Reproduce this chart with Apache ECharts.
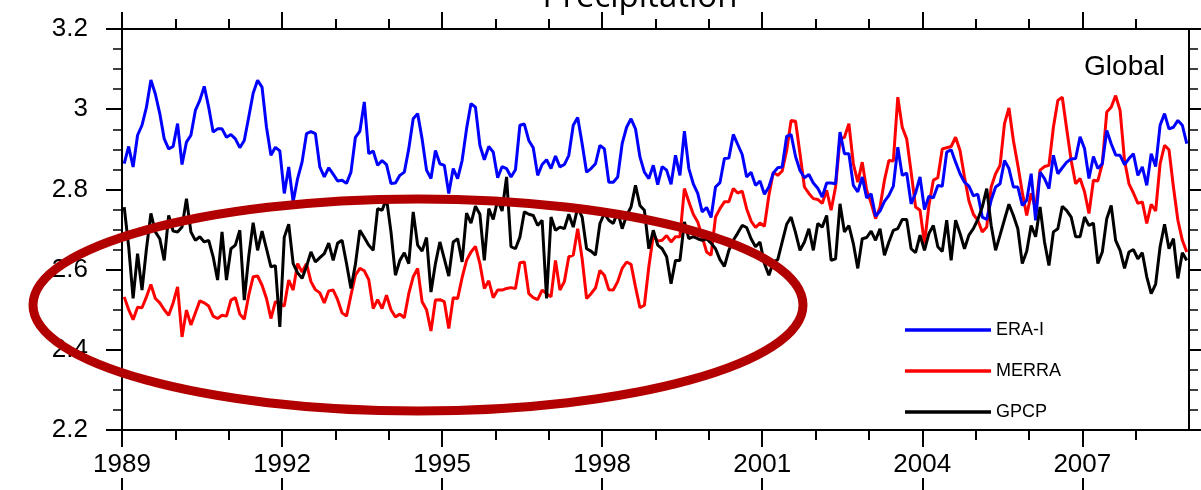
<!DOCTYPE html>
<html>
<head>
<meta charset="utf-8">
<script src="https://cdn.jsdelivr.net/npm/echarts@6/dist/echarts.min.js"></script>
<style>
html,body{margin:0;padding:0;background:#ffffff;}
#chart{width:1201px;height:490px;}
</style>
</head>
<body>
<div id="chart"></div>
<script>
// ---------------- data ----------------
const startYear = 1989;                 // monthly series, Jan 1989 .. Dec 2008
const yearCategories = ['1989','1990','1991','1992','1993','1994','1995','1996','1997','1998',
  '1999','2000','2001','2002','2003','2004','2005','2006','2007','2008','2009'];
const yMin = 2.2, yMax = 3.2, yStep = 0.2;
const seriesNames = ['ERA-I', 'MERRA', 'GPCP'];
const titleText = 'Precipitation';
const regionText = 'Global';

const eraI = [
  2.864,2.907,2.856,2.935,2.960,3.005,3.073,3.038,2.989,2.926,2.901,2.907,
  2.964,2.862,2.918,2.935,2.997,3.022,3.057,3.005,2.943,2.951,2.951,2.930,
  2.937,2.926,2.904,2.922,2.980,3.040,3.072,3.055,2.955,2.885,2.905,2.896,
  2.790,2.856,2.769,2.827,2.868,2.939,2.944,2.939,2.856,2.831,2.854,2.838,
  2.821,2.823,2.815,2.843,2.930,2.945,3.018,2.889,2.896,2.860,2.872,2.862,
  2.815,2.816,2.835,2.843,2.901,2.976,2.989,2.926,2.848,2.827,2.897,2.864,
  2.860,2.790,2.852,2.827,2.872,2.951,3.014,3.005,2.910,2.874,2.907,2.893,
  2.829,2.857,2.852,2.831,2.849,2.960,2.963,2.922,2.904,2.835,2.862,2.874,
  2.852,2.883,2.856,2.862,2.885,2.960,2.979,2.914,2.843,2.852,2.864,2.910,
  2.901,2.818,2.818,2.831,2.914,2.955,2.976,2.951,2.881,2.843,2.827,2.860,
  2.812,2.857,2.848,2.813,2.885,2.835,2.945,2.852,2.814,2.790,2.744,2.755,
  2.730,2.806,2.817,2.877,2.878,2.937,2.912,2.887,2.831,2.843,2.810,2.821,
  2.788,2.806,2.841,2.854,2.856,2.932,2.937,2.882,2.847,2.829,2.837,2.816,
  2.803,2.781,2.816,2.816,2.814,2.943,2.889,2.889,2.810,2.794,2.831,2.779,
  2.789,2.733,2.746,2.770,2.785,2.808,2.905,2.835,2.841,2.764,2.791,2.831,
  2.750,2.783,2.779,2.810,2.808,2.893,2.899,2.868,2.839,2.818,2.808,2.784,
  2.788,2.731,2.725,2.773,2.806,2.814,2.872,2.852,2.806,2.806,2.760,2.773,
  2.839,2.723,2.843,2.827,2.802,2.885,2.839,2.854,2.868,2.876,2.877,2.931,
  2.902,2.827,2.882,2.852,2.864,2.947,2.914,2.886,2.885,2.862,2.877,2.889,
  2.835,2.856,2.810,2.889,2.857,2.960,2.989,2.951,2.955,2.972,2.960,2.914
];

const merra = [
  2.532,2.500,2.475,2.506,2.505,2.532,2.563,2.528,2.517,2.500,2.486,2.517,
  2.557,2.432,2.499,2.462,2.492,2.522,2.517,2.509,2.484,2.478,2.486,2.484,
  2.524,2.530,2.489,2.476,2.536,2.582,2.584,2.561,2.528,2.478,2.520,2.515,
  2.509,2.574,2.549,2.615,2.594,2.615,2.570,2.550,2.542,2.517,2.547,2.549,
  2.525,2.492,2.484,2.536,2.586,2.603,2.597,2.575,2.503,2.525,2.503,2.536,
  2.500,2.482,2.489,2.480,2.540,2.582,2.603,2.520,2.500,2.447,2.524,2.525,
  2.520,2.453,2.530,2.528,2.580,2.623,2.644,2.658,2.615,2.553,2.572,2.530,
  2.549,2.549,2.553,2.555,2.553,2.617,2.619,2.540,2.530,2.525,2.549,2.540,
  2.532,2.623,2.549,2.570,2.632,2.636,2.702,2.627,2.528,2.540,2.554,2.598,
  2.586,2.550,2.549,2.570,2.603,2.619,2.613,2.557,2.505,2.511,2.607,2.685,
  2.671,2.673,2.685,2.669,2.682,2.682,2.802,2.769,2.738,2.719,2.682,2.644,
  2.636,2.731,2.752,2.769,2.769,2.802,2.791,2.796,2.752,2.721,2.705,2.716,
  2.708,2.785,2.843,2.835,2.846,2.897,2.972,2.970,2.889,2.806,2.790,2.777,
  2.775,2.765,2.798,2.748,2.806,2.926,2.930,2.964,2.864,2.818,2.868,2.798,
  2.766,2.727,2.756,2.823,2.872,2.871,3.030,2.955,2.926,2.843,2.756,2.748,
  2.665,2.760,2.823,2.829,2.901,2.904,2.907,2.930,2.897,2.831,2.771,2.738,
  2.723,2.694,2.706,2.806,2.839,2.860,2.964,3.003,2.922,2.860,2.793,2.735,
  2.790,2.752,2.848,2.857,2.860,2.955,3.022,3.030,2.950,2.872,2.814,2.827,
  2.794,2.740,2.823,2.821,2.864,2.993,3.005,3.034,2.997,2.872,2.814,2.791,
  2.765,2.769,2.715,2.763,2.746,2.864,2.910,2.899,2.806,2.723,2.673,2.644
];

const gpcp = [
  2.756,2.657,2.528,2.640,2.549,2.652,2.740,2.694,2.677,2.623,2.735,2.696,
  2.694,2.706,2.777,2.694,2.673,2.682,2.669,2.673,2.632,2.574,2.694,2.574,
  2.652,2.661,2.698,2.524,2.632,2.717,2.648,2.696,2.652,2.607,2.610,2.457,
  2.681,2.713,2.615,2.592,2.578,2.608,2.644,2.619,2.630,2.640,2.666,2.623,
  2.666,2.673,2.615,2.553,2.613,2.698,2.680,2.661,2.648,2.752,2.748,2.777,
  2.694,2.586,2.623,2.642,2.615,2.744,2.661,2.646,2.680,2.544,2.615,2.669,
  2.627,2.584,2.669,2.677,2.619,2.741,2.716,2.758,2.738,2.623,2.752,2.725,
  2.774,2.746,2.831,2.657,2.652,2.681,2.744,2.738,2.735,2.710,2.723,2.528,
  2.731,2.698,2.706,2.702,2.738,2.706,2.755,2.731,2.652,2.646,2.636,2.715,
  2.740,2.723,2.715,2.744,2.702,2.735,2.756,2.810,2.760,2.748,2.652,2.698,
  2.661,2.652,2.632,2.565,2.623,2.623,2.719,2.677,2.682,2.677,2.673,2.677,
  2.666,2.652,2.625,2.608,2.648,2.673,2.691,2.710,2.705,2.677,2.657,2.669,
  2.615,2.586,2.619,2.625,2.669,2.713,2.731,2.692,2.648,2.669,2.702,2.648,
  2.715,2.706,2.735,2.623,2.627,2.764,2.694,2.710,2.665,2.603,2.677,2.680,
  2.696,2.673,2.702,2.636,2.669,2.698,2.702,2.725,2.725,2.652,2.642,2.686,
  2.648,2.690,2.710,2.657,2.645,2.723,2.623,2.723,2.690,2.652,2.686,2.702,
  2.725,2.756,2.802,2.710,2.648,2.686,2.725,2.763,2.735,2.702,2.615,2.646,
  2.710,2.682,2.756,2.669,2.610,2.694,2.702,2.758,2.747,2.731,2.682,2.682,
  2.731,2.710,2.716,2.615,2.644,2.727,2.760,2.673,2.648,2.603,2.644,2.650,
  2.627,2.642,2.582,2.540,2.564,2.657,2.713,2.652,2.677,2.578,2.642,2.623
];

// ---------------- chart ----------------
const FONT = '"Liberation Sans", Arial, Helvetica, sans-serif';
const toPairs = arr => arr.map((v, i) => [startYear + (i + 0.5) / 12, v]);
const lastIdx = yearCategories.length - 1;
const isMajor = i => i % 3 === 0 && i < lastIdx;
const isMinor = i => i % 3 !== 0 && i < lastIdx;

function decorX(position, major, opts) {
  return Object.assign({
    type: 'category', data: yearCategories, boundaryGap: false, position: position,
    gridIndex: 0,
    axisLine: { show: false, onZero: false, lineStyle: { color: '#000', width: 2 } },
    axisTick: { show: true, interval: (i) => (major ? isMajor(i) : isMinor(i)),
                length: major ? 17 : 10, lineStyle: { color: '#000', width: 2 } },
    axisLabel: { show: false },
    splitLine: { show: false }, axisPointer: { show: false }, silent: true
  }, opts || {});
}

const chart = echarts.init(document.getElementById('chart'), null, { renderer: 'canvas' });
const option = {
  animation: false,
  backgroundColor: '#ffffff',
  grid: [
    { left: 122, right: 12, top: 29, bottom: 60, containLabel: false },
    { left: 122, right: 12, top: 497, height: 100, containLabel: false }
  ],
  xAxis: [
    { type: 'value', min: startYear, max: startYear + 20, show: false, gridIndex: 0 },
    decorX('bottom', true, {
      axisLine: { show: true, onZero: false, lineStyle: { color: '#000', width: 2 } },
      axisLabel: { show: true, interval: (i) => isMajor(i), margin: 22, fontSize: 26,
                   color: '#000', fontFamily: FONT }
    }),
    decorX('bottom', false),
    decorX('top', true, {
      axisLine: { show: true, onZero: false, lineStyle: { color: '#000', width: 2 } }
    }),
    decorX('top', false),
    decorX('top', true, { gridIndex: 1, axisTick: { show: true, interval: (i) => isMajor(i), length: 19,
                           lineStyle: { color: '#000', width: 2 } } })
  ],
  yAxis: [
    {
      type: 'value', min: yMin, max: yMax, interval: yStep, position: 'left', gridIndex: 0,
      axisLine: { show: true, onZero: false, lineStyle: { color: '#000', width: 2 } },
      axisTick: { show: true, length: 16, lineStyle: { color: '#000', width: 2 } },
      minorTick: { show: true, splitNumber: 4, length: 9, lineStyle: { color: '#000', width: 1.5 } },
      axisLabel: { margin: 34, fontSize: 26, color: '#000', fontFamily: FONT },
      splitLine: { show: false }, minorSplitLine: { show: false }
    },
    {
      type: 'value', min: yMin, max: yMax, interval: yStep, position: 'right', gridIndex: 0,
      axisLine: { show: true, onZero: false, lineStyle: { color: '#000', width: 2 } },
      axisTick: { show: true, length: 16, lineStyle: { color: '#000', width: 2 } },
      minorTick: { show: true, splitNumber: 4, length: 9, lineStyle: { color: '#000', width: 1.5 } },
      axisLabel: { show: false },
      splitLine: { show: false }, minorSplitLine: { show: false }
    },
    { type: 'value', gridIndex: 1, show: false, min: 0, max: 1 }
  ],
  legend: {
    orient: 'vertical', left: 900, top: 316, itemWidth: 86, itemHeight: 3.5, itemGap: 23,
    icon: 'rect', data: seriesNames, selectedMode: false,
    textStyle: { fontSize: 18, color: '#000', fontFamily: FONT }
  },
  series: [
    { name: seriesNames[1], type: 'line', xAxisIndex: 0, yAxisIndex: 0, data: toPairs(merra),
      showSymbol: false, symbol: 'none', color: '#ff0000', lineStyle: { color: '#ff0000', width: 3 },
      emphasis: { disabled: true }, z: 2 },
    { name: seriesNames[0], type: 'line', xAxisIndex: 0, yAxisIndex: 0, data: toPairs(eraI),
      showSymbol: false, symbol: 'none', color: '#0000ff', lineStyle: { color: '#0000ff', width: 3 },
      emphasis: { disabled: true }, z: 2 },
    { name: seriesNames[2], type: 'line', xAxisIndex: 0, yAxisIndex: 0, data: toPairs(gpcp),
      showSymbol: false, symbol: 'none', color: '#000000', lineStyle: { color: '#000000', width: 3 },
      emphasis: { disabled: true }, z: 2 }
  ],
  graphic: [
    { type: 'text', x: 640, y: -19, z: 100, silent: true,
      style: { text: titleText, fontSize: 33, fontFamily: '"Open Sans", "DejaVu Sans", sans-serif', fill: '#000', align: 'center' } },
    { type: 'text', x: 1165, y: 67, z: 100, silent: true,
      style: { text: regionText, fontSize: 28, fontFamily: FONT, fill: '#000', align: 'right', verticalAlign: 'middle' } },
    { type: 'ellipse', z: 200, silent: true,
      shape: { cx: 418, cy: 305, rx: 385, ry: 106 },
      style: { fill: null, stroke: '#b20000', lineWidth: 9 } }
  ]
};
chart.setOption(option);
</script>
</body>
</html>
